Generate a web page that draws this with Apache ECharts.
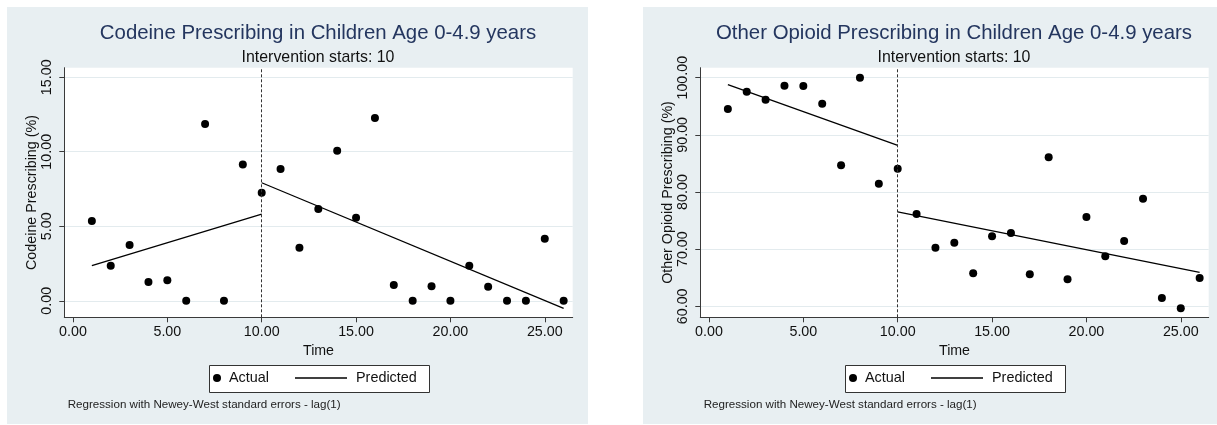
<!DOCTYPE html>
<html>
<head>
<meta charset="utf-8">
<script src="https://cdn.jsdelivr.net/npm/echarts@6/dist/echarts.min.js"></script>
<style>
  html, body { margin: 0; padding: 0; background: #ffffff; }
  #chart { width: 1217px; height: 425px; }
</style>
</head>
<body>
<div id="chart"></div>
<script>
// Monthly time index
const time = [1, 2, 3, 4, 5, 6, 7, 8, 9, 10, 11, 12, 13, 14, 15, 16, 17, 18, 19, 20, 21, 22, 23, 24, 25, 26];
const xTicks = [0, 5, 10, 15, 20, 25];
const interventionTime = 10;

// Codeine prescribing (%), observed
const codeineActual = [5.35, 2.35, 3.74, 1.26, 1.37, 0, 11.86, 0, 9.15, 7.25, 8.84, 3.56, 6.15,
                       10.07, 5.57, 12.26, 1.05, 0, 0.97, 0, 2.35, 0.94, 0, 0, 4.16, 0];
const codeineTicks = [0, 5, 10, 15];

// Other opioid prescribing (%), observed
const opioidActual = [94.52, 97.55, 96.15, 98.60, 98.55, 95.45, 84.67, 100.0, 81.45, 84.08, 76.15, 70.25, 71.13,
                      65.77, 72.25, 72.83, 65.60, 86.07, 64.72, 75.63, 68.75, 71.43, 78.83, 61.45, 59.65, 64.95];
const opioidTicks = [60, 70, 80, 90, 100];

// Fitted segments (start / end of each period)
const preTimes = [1, 10];
const postTimes = [10, 26];
const codeinePredPre = [2.35, 5.82];
const codeinePredPost = [7.92, -0.51];
const opioidPredPre = [98.78, 88.17];
const opioidPredPost = [76.52, 65.95];

const titles = ['Codeine Prescribing in Children Age 0-4.9 years', 'Other Opioid Prescribing in Children Age 0-4.9 years'];
const yNames = ['Codeine Prescribing (%)', 'Other Opioid Prescribing (%)'];
const subtitle = 'Intervention starts: ' + interventionTime;
const footnote = 'Regression with Newey-West standard errors - lag(1)';

const FONT = '"Liberation Sans", Arial, Helvetica, sans-serif';
const AXIS_COLOR = '#3a3a3a';
const TEXT_COLOR = '#111111';

const panels = [
  { off: 0,   actual: codeineActual, pre: codeinePredPre, post: codeinePredPost, ticks: codeineTicks, min: -1.11, max: 15.64 },
  { off: 636, actual: opioidActual,  pre: opioidPredPre,  post: opioidPredPost,  ticks: opioidTicks,  min: 58.08, max: 101.75 }
];

const option = {
  animation: false,
  backgroundColor: 'transparent',
  title: [],
  grid: [],
  xAxis: [],
  yAxis: [],
  series: [],
  legend: [],
  graphic: []
};

panels.forEach((p, i) => {
  const off = p.off;

  option.graphic.push({
    type: 'rect', z: -10, silent: true,
    shape: { x: 7 + off, y: 7, width: 581, height: 417 },
    style: { fill: '#e8eff2' }
  });
  option.graphic.push({
    type: 'rect', z: 1, silent: true,
    shape: { x: 209.5 + off, y: 365.5, width: 220, height: 27 },
    style: { fill: '#ffffff', stroke: '#333333', lineWidth: 1 }
  });

  option.title.push({
    text: titles[i], left: 318 + off, top: 23.5, textAlign: 'center', padding: 0,
    textStyle: { fontSize: 20.4, fontWeight: 'normal', color: '#24365f', fontFamily: FONT }
  });
  option.title.push({
    text: subtitle, left: 318 + off, top: 49.5, textAlign: 'center', padding: 0,
    textStyle: { fontSize: 15.9, fontWeight: 'normal', color: TEXT_COLOR, fontFamily: FONT }
  });
  option.title.push({
    text: footnote, left: 67.7 + off, top: 399, padding: 0,
    textStyle: { fontSize: 11.6, fontWeight: 'normal', color: '#222222', fontFamily: FONT }
  });

  option.grid.push({
    left: 64.3 + off, top: 67.7, width: 508.4, height: 249.6,
    show: true, backgroundColor: '#ffffff', borderWidth: 0,
    containLabel: false, outerBoundsMode: 'none'
  });

  option.xAxis.push({
    gridIndex: i, type: 'value', min: -0.46, max: 26.48,
    name: 'Time', nameLocation: 'middle', nameGap: 22,
    nameTextStyle: { fontSize: 14.2, color: TEXT_COLOR, fontFamily: FONT },
    axisLine: { show: true, onZero: false, lineStyle: { color: AXIS_COLOR, width: 1 } },
    axisTick: { show: true, length: 5, customValues: xTicks, lineStyle: { color: AXIS_COLOR } },
    axisLabel: { customValues: xTicks, formatter: v => v.toFixed(2), fontSize: 14.3, color: TEXT_COLOR, margin: 8, fontFamily: FONT },
    splitLine: { show: false }
  });

  option.yAxis.push({
    gridIndex: i, type: 'value', min: p.min, max: p.max,
    name: yNames[i], nameLocation: 'middle', nameGap: 25, nameRotate: 90,
    nameTextStyle: { fontSize: 14.3, color: TEXT_COLOR, fontFamily: FONT },
    axisLine: { show: true, onZero: false, lineStyle: { color: AXIS_COLOR, width: 1 } },
    axisTick: { show: true, length: 5, customValues: p.ticks, lineStyle: { color: AXIS_COLOR } },
    axisLabel: { customValues: p.ticks, rotate: 90, formatter: v => v.toFixed(2), fontSize: 14.3, color: TEXT_COLOR, margin: 10, fontFamily: FONT },
    splitLine: { show: true, lineStyle: { color: '#e3ebee', width: 1 } }
  });

  option.series.push({
    name: 'Actual', type: 'scatter', xAxisIndex: i, yAxisIndex: i, z: 4,
    symbol: 'circle', symbolSize: 8,
    itemStyle: { color: '#000000', opacity: 1 },
    data: time.map((t, k) => [t, p.actual[k]])
  });
  option.series.push({
    name: 'Predicted', type: 'line', xAxisIndex: i, yAxisIndex: i, z: 3,
    symbol: 'none', lineStyle: { color: '#000000', width: 1.3 }, itemStyle: { color: '#000000' },
    data: preTimes.map((t, k) => [t, p.pre[k]]),
    markLine: {
      silent: true, symbol: ['none', 'none'], label: { show: false },
      lineStyle: { type: [3, 2], color: '#333333', width: 1 },
      data: [{ xAxis: interventionTime }]
    }
  });
  option.series.push({
    name: 'Predicted', type: 'line', xAxisIndex: i, yAxisIndex: i, z: 3,
    symbol: 'none', lineStyle: { color: '#000000', width: 1.3 }, itemStyle: { color: '#000000' },
    data: postTimes.map((t, k) => [t, p.post[k]])
  });

  option.legend.push({
    data: [{ name: 'Actual', icon: 'circle' }], left: 213 + off, top: 371, padding: 0,
    itemWidth: 10, itemHeight: 8, selectedMode: false,
    itemStyle: { color: '#000000' },
    textStyle: { fontSize: 14.4, color: TEXT_COLOR, fontFamily: FONT, padding: [0, 0, 0, 2] }
  });
  option.legend.push({
    data: [{ name: 'Predicted', icon: 'rect' }], left: 295 + off, top: 371, padding: 0,
    itemWidth: 52, itemHeight: 1.3, selectedMode: false,
    itemStyle: { color: '#000000' },
    textStyle: { fontSize: 14.4, color: TEXT_COLOR, fontFamily: FONT, padding: [0, 0, 0, 4] }
  });
});

const chart = echarts.init(document.getElementById('chart'), null, { renderer: 'canvas' });
chart.setOption(option);
</script>
</body>
</html>
